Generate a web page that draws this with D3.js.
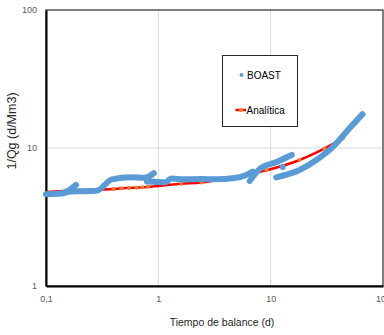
<!DOCTYPE html>
<html>
<head>
    <meta charset="utf-8" />
    <script src="https://d3js.org/d3.v7.min.js"></script>
    <style>
        body { margin: 0; background: #fff; }
        text { font-family: "Liberation Sans", Arial, sans-serif; }
        .tick text { fill: #595959; font-size: 9px; }
    </style>
</head>
<body>
    <script>
        // tick labels
        var xTicks = [0.1, 1, 10, 100];
        var xTickLabels = ["0,1", "1", "10", "100"];
        var yTicks = [1, 10, 100];
        var yTickLabels = ["1", "10", "100"];

        // BOAST, one array per run of points
        var boastSeg1 = [[0.1, 4.62], [0.125, 4.66], [0.145, 4.72], [0.165, 5.02], [0.185, 5.4]];
        var boastSeg2 = [[0.15, 4.82], [0.2, 4.86], [0.25, 4.88], [0.284, 4.91], [0.386, 5.93],
                         [0.57, 6.13], [0.743, 6.09], [0.8, 6.15], [0.912, 6.56]];
        var boastSeg3 = [[0.79, 5.72], [0.95, 5.68], [1.14, 5.64], [1.31, 6.0], [1.65, 5.93],
                         [2.4, 5.95], [3.29, 5.93], [4.59, 6.03], [6.0, 6.35], [6.92, 6.73]];
        var boastSeg4 = [[6.51, 5.77], [7.98, 7.05], [11.3, 7.92], [15.4, 8.9]];
        var boastSeg5 = [[11.2, 6.13], [18.1, 6.93], [25.5, 8.19], [35.8, 10.2], [50.4, 13.9], [65.7, 17.6]];
        var boastLone = [[12.8, 7.28]];

        // Analítica
        var analitX = [0.1, 0.24, 0.4, 0.47, 0.55, 0.64, 0.72, 0.81, 1.6, 2.42, 5, 9.2, 18.1, 30, 43.9];
        var analitY = [4.8, 4.98, 5.05, 5.1, 5.13, 5.16, 5.19, 5.23, 5.5, 5.62, 6.2, 6.9, 8.19, 9.9, 11.75];

        var width = 384, height = 335;
        var margin = { left: 46, top: 10, right: 1, bottom: 49 };

        var svg = d3.select("body").append("svg")
            .attr("width", width)
            .attr("height", height);

        var x = d3.scaleLog().domain([0.1, 100]).range([margin.left, width - margin.right]);
        var y = d3.scaleLog().domain([1, 100]).range([height - margin.bottom, margin.top]);

        // grid
        svg.append("g").selectAll("line").data([1, 10]).enter().append("line")
            .attr("x1", function (d) { return x(d); }).attr("x2", function (d) { return x(d); })
            .attr("y1", y(1)).attr("y2", y(100))
            .attr("stroke", "#d9d9d9").attr("stroke-width", 1);
        svg.append("g").selectAll("line").data([10]).enter().append("line")
            .attr("x1", x(0.1)).attr("x2", x(100))
            .attr("y1", function (d) { return y(d); }).attr("y2", function (d) { return y(d); })
            .attr("stroke", "#d9d9d9").attr("stroke-width", 1);

        // frame
        svg.append("rect")
            .attr("x", x(0.1)).attr("y", y(100))
            .attr("width", x(100) - x(0.1)).attr("height", y(1) - y(100))
            .attr("fill", "none").attr("stroke", "#000").attr("stroke-width", 1);

        // axes
        var xAxis = d3.axisBottom(x).tickValues(xTicks).tickSize(0).tickPadding(10)
            .tickFormat(function (d, i) { return xTickLabels[i]; });
        var yAxis = d3.axisLeft(y).tickValues(yTicks).tickSize(0).tickPadding(9)
            .tickFormat(function (d, i) { return yTickLabels[i]; });

        var gx = svg.append("g").attr("transform", "translate(0," + y(1) + ")").call(xAxis);
        var gy = svg.append("g").attr("transform", "translate(" + x(0.1) + ",0)").call(yAxis);
        gx.select(".domain").attr("stroke", "#000").attr("stroke-width", 2);
        gy.select(".domain").attr("stroke", "#000").attr("stroke-width", 2);
        gx.selectAll(".tick text").attr("font-family", null).attr("font-size", null);
        gy.selectAll(".tick text").attr("font-family", null).attr("font-size", null);

        // axis titles
        svg.append("text")
            .attr("x", 222).attr("y", 326)
            .attr("text-anchor", "middle")
            .attr("font-size", "10.5px").attr("fill", "#262626")
            .text("Tiempo de balance (d)");
        svg.append("text")
            .attr("transform", "translate(16,131) rotate(-90)")
            .attr("text-anchor", "middle")
            .attr("font-size", "12.5px").attr("fill", "#262626")
            .text("1/Qg (d/Mm3)");

        var line = d3.line()
            .x(function (d) { return x(d[0]); })
            .y(function (d) { return y(d[1]); })
            .curve(d3.curveMonotoneX);

        // analytic line + markers
        var analit = analitX.map(function (v, i) { return [v, analitY[i]]; });
        svg.append("path").datum(analit)
            .attr("d", line)
            .attr("fill", "none").attr("stroke", "#ff0000").attr("stroke-width", 2.5);
        svg.append("g").selectAll("circle").data(analit.slice(1)).enter().append("circle")
            .attr("cx", function (d) { return x(d[0]); })
            .attr("cy", function (d) { return y(d[1]); })
            .attr("r", 2).attr("fill", "#ed7d31");

        // BOAST
        var segs = [boastSeg1, boastSeg2, boastSeg3, boastSeg4, boastSeg5];
        svg.append("g").selectAll("path").data(segs).enter().append("path")
            .attr("d", line)
            .attr("fill", "none").attr("stroke", "#5b9bd5").attr("stroke-width", 6)
            .attr("stroke-linecap", "round").attr("stroke-linejoin", "round");
        svg.append("g").selectAll("circle").data(boastLone).enter().append("circle")
            .attr("cx", function (d) { return x(d[0]); })
            .attr("cy", function (d) { return y(d[1]); })
            .attr("r", 3).attr("fill", "#5b9bd5");

        // legend
        var lg = svg.append("g");
        lg.append("rect").attr("x", 222.5).attr("y", 55.5).attr("width", 75).attr("height", 71)
            .attr("fill", "#fff").attr("stroke", "#262626").attr("stroke-width", 1);
        lg.append("circle").attr("cx", 241.5).attr("cy", 75).attr("r", 2).attr("fill", "#5b9bd5");
        lg.append("text").attr("x", 247).attr("y", 78.5).attr("font-size", "10px").attr("fill", "#000").text("BOAST");
        lg.append("line").attr("x1", 235.5).attr("x2", 246).attr("y1", 110).attr("y2", 110)
            .attr("stroke", "#ff0000").attr("stroke-width", 2.5);
        lg.append("circle").attr("cx", 241).attr("cy", 110).attr("r", 2).attr("fill", "#ed7d31");
        lg.append("text").attr("x", 246.5).attr("y", 113.5).attr("font-size", "10px").attr("fill", "#000").text("Analítica");
    </script>
</body>
</html>
